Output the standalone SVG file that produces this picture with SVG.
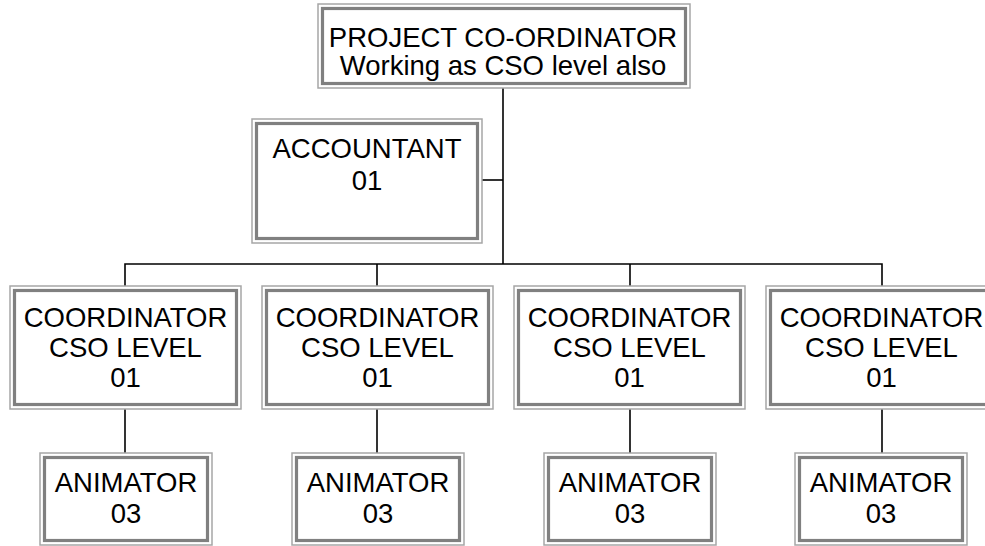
<svg xmlns="http://www.w3.org/2000/svg" width="985" height="546" viewBox="0 0 985 546">
  <style>
    .outer { fill: #ffffff; stroke: #a6a6a6; stroke-width: 1.5; }
    .inner { fill: none; stroke: #808080; stroke-width: 3.2; }
    .lbl { font-family: "Liberation Sans", Arial, sans-serif; font-size: 27.5px; fill: #000000; text-anchor: middle; }
    .wire { fill: none; stroke: #000000; stroke-width: 1.6; }
  </style>
  <rect width="985" height="546" fill="#ffffff"/>

  <!-- connectors -->
  <g id="connectors">
    <path class="wire" d="M503,88 V264"/>
    <path class="wire" d="M482,180 H503"/>
    <path class="wire" d="M125,286 V264 H882 V286"/>
    <path class="wire" d="M377,264 V286"/>
    <path class="wire" d="M630,264 V286"/>
    <path class="wire" d="M125,409 V453"/>
    <path class="wire" d="M377,409 V453"/>
    <path class="wire" d="M630,409 V453"/>
    <path class="wire" d="M882,409 V453"/>
  </g>

  <!-- top node -->
  <g id="project-coordinator">
    <rect class="outer" x="318" y="4" width="372" height="84"/>
    <rect class="inner" x="322.5" y="8.5" width="363" height="75"/>
    <text class="lbl" x="503" y="47">PROJECT CO-ORDINATOR</text>
    <text class="lbl" x="503" y="75">Working as CSO level also</text>
  </g>

  <g id="accountant">
    <rect class="outer" x="252" y="119" width="230" height="124"/>
    <rect class="inner" x="256.5" y="123.5" width="221" height="115"/>
    <text class="lbl" x="367" y="158">ACCOUNTANT</text>
    <text class="lbl" x="367" y="190">01</text>
  </g>

  <!-- coordinators -->
  <g id="coordinator-1">
    <rect class="outer" x="10" y="286" width="231" height="123"/>
    <rect class="inner" x="14.5" y="290.5" width="222" height="114"/>
    <text class="lbl" x="125.5" y="327">COORDINATOR</text>
    <text class="lbl" x="125.5" y="357">CSO LEVEL</text>
    <text class="lbl" x="125.5" y="387">01</text>
  </g>
  <g id="coordinator-2">
    <rect class="outer" x="262" y="286" width="231" height="123"/>
    <rect class="inner" x="266.5" y="290.5" width="222" height="114"/>
    <text class="lbl" x="377.5" y="327">COORDINATOR</text>
    <text class="lbl" x="377.5" y="357">CSO LEVEL</text>
    <text class="lbl" x="377.5" y="387">01</text>
  </g>
  <g id="coordinator-3">
    <rect class="outer" x="514" y="286" width="231" height="123"/>
    <rect class="inner" x="518.5" y="290.5" width="222" height="114"/>
    <text class="lbl" x="629.5" y="327">COORDINATOR</text>
    <text class="lbl" x="629.5" y="357">CSO LEVEL</text>
    <text class="lbl" x="629.5" y="387">01</text>
  </g>
  <g id="coordinator-4">
    <rect class="outer" x="766" y="286" width="231" height="123"/>
    <rect class="inner" x="770.5" y="290.5" width="222" height="114"/>
    <text class="lbl" x="881.5" y="327">COORDINATOR</text>
    <text class="lbl" x="881.5" y="357">CSO LEVEL</text>
    <text class="lbl" x="881.5" y="387">01</text>
  </g>

  <!-- animators -->
  <g id="animator-1">
    <rect class="outer" x="40" y="453" width="172" height="92"/>
    <rect class="inner" x="44.5" y="457.5" width="163" height="83"/>
    <text class="lbl" x="126" y="492">ANIMATOR</text>
    <text class="lbl" x="126" y="523">03</text>
  </g>
  <g id="animator-2">
    <rect class="outer" x="292" y="453" width="172" height="92"/>
    <rect class="inner" x="296.5" y="457.5" width="163" height="83"/>
    <text class="lbl" x="378" y="492">ANIMATOR</text>
    <text class="lbl" x="378" y="523">03</text>
  </g>
  <g id="animator-3">
    <rect class="outer" x="544" y="453" width="172" height="92"/>
    <rect class="inner" x="548.5" y="457.5" width="163" height="83"/>
    <text class="lbl" x="630" y="492">ANIMATOR</text>
    <text class="lbl" x="630" y="523">03</text>
  </g>
  <g id="animator-4">
    <rect class="outer" x="795" y="453" width="172" height="92"/>
    <rect class="inner" x="799.5" y="457.5" width="163" height="83"/>
    <text class="lbl" x="881" y="492">ANIMATOR</text>
    <text class="lbl" x="881" y="523">03</text>
  </g>
</svg>
